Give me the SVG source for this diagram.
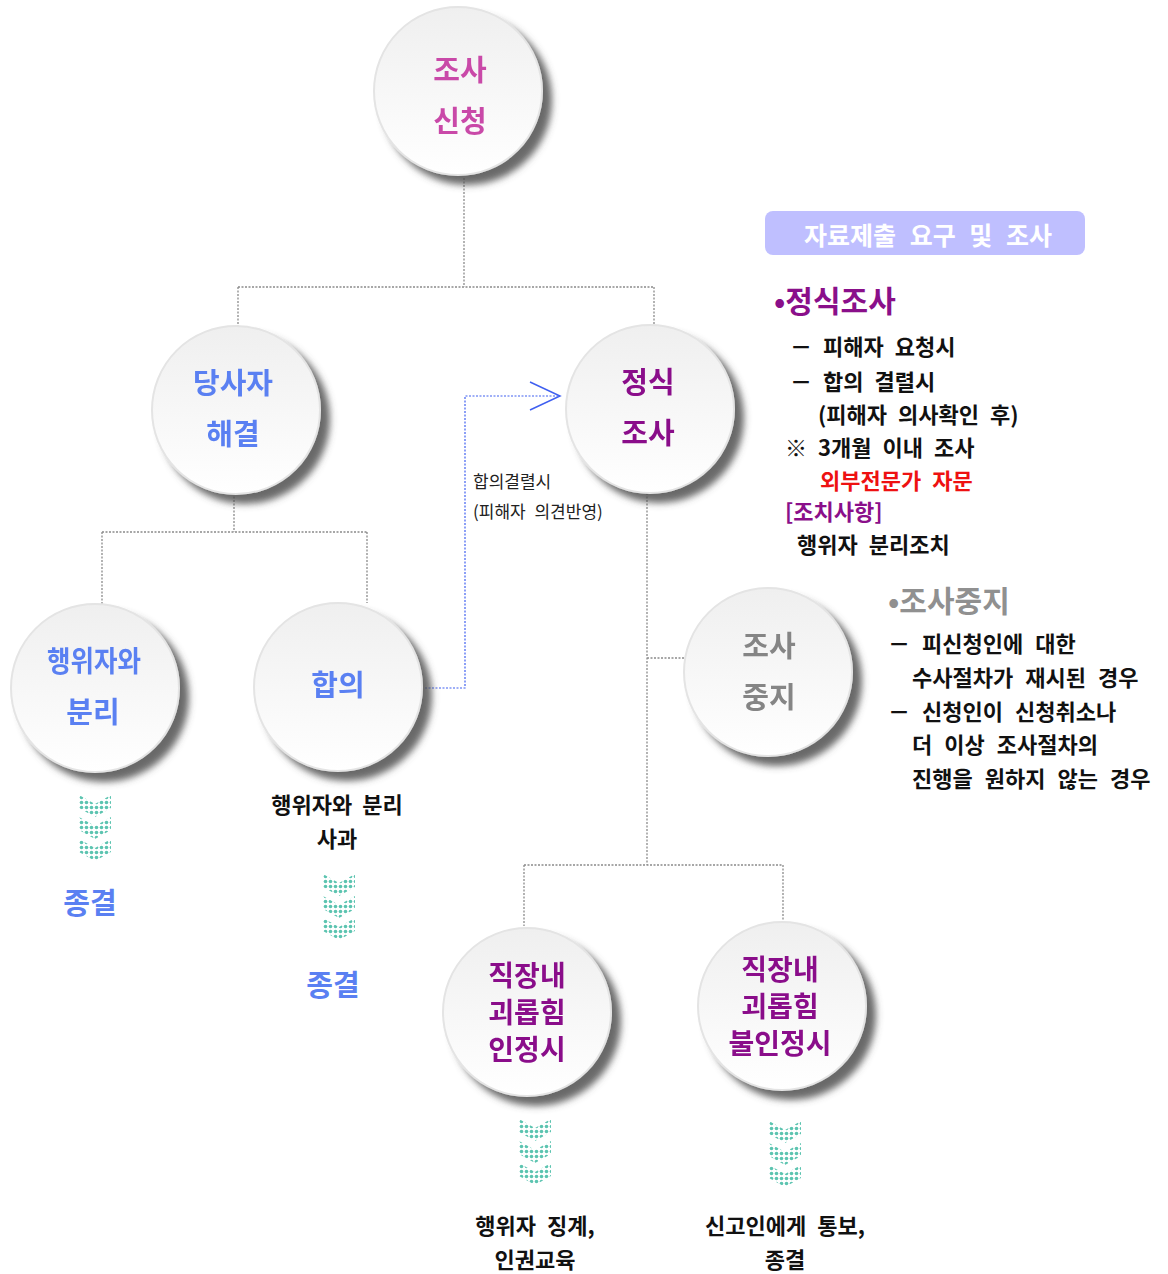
<svg xmlns="http://www.w3.org/2000/svg" width="1168" height="1274" viewBox="0 0 1168 1274">
<defs>
<style>
.t{font-family:"Noto Sans CJK KR","Noto Sans",sans-serif;font-weight:bold}
.c{font-size:29px;text-anchor:middle}
.c3{font-size:28px;text-anchor:middle}
.s{font-size:22px;fill:#111}
.lbl{font-family:"Noto Sans CJK KR","Noto Sans",sans-serif;font-size:17px;fill:#222}
.conn{fill:none;stroke:#8a8a8a;stroke-width:1.3;stroke-dasharray:2 1.5}
.bl{fill:none;stroke:#4060f0;stroke-width:1.2;stroke-dasharray:2 1.5}
.pink{fill:#c94aa8}
.blue{fill:#5a80f2}
.purp{fill:#8a0f8a}
.gray{fill:#858585}
</style>
<linearGradient id="cg" x1="0" y1="0" x2="0" y2="1">
<stop offset="0" stop-color="#efefef"/>
<stop offset="1" stop-color="#ffffff"/>
</linearGradient>
<filter id="sh" x="-30%" y="-30%" width="160%" height="160%">
<feGaussianBlur in="SourceAlpha" stdDeviation="3.5" result="b"/>
<feOffset in="b" dx="9" dy="9" result="o"/>
<feFlood flood-color="#505050" flood-opacity="0.85"/>
<feComposite in2="o" operator="in" result="s"/>
<feMerge><feMergeNode in="s"/><feMergeNode in="SourceGraphic"/></feMerge>
</filter>
<pattern id="dots" width="5" height="5" patternUnits="userSpaceOnUse">
<circle cx="2.5" cy="2.5" r="1.8" fill="#5cc4b0"/>
</pattern>
<g id="chev">
<polygon points="0,0 16,9 32,0 32,13 16,22 0,13" fill="url(#dots)"/>
<polygon points="0,22 16,31 32,22 32,35 16,44 0,35" fill="url(#dots)"/>
<polygon points="0,44 16,53 32,44 32,57 16,66 0,57" fill="url(#dots)"/>
</g>
<circle id="node" r="84" fill="url(#cg)" stroke="#e4e4e4" stroke-width="2"/>
</defs>

<g id="connectors">
<path class="conn" d="M464 178 V287 M238 287 H654 M238 287 V327 M654 287 V325"/>
<path class="conn" d="M234 493 V532 M102 532 H367 M102 532 V605 M367 532 V603"/>
<path class="conn" d="M647 493 V865 M647 658 H685 M524 865 H783 M524 865 V926 M783 865 V921"/>
<path class="bl" d="M425 688 H465 V396 H558"/>
<path d="M530 382 L560 396 L530 410" fill="none" stroke="#3f5ff0" stroke-width="1.5"/>
</g>

<g id="n-request" filter="url(#sh)">
<use href="#node" x="458" y="91"/>
<text class="t c pink" x="460" y="81">조사</text>
<text class="t c pink" x="460" y="132">신청</text>
</g>
<g id="n-party" filter="url(#sh)">
<use href="#node" x="236" y="410"/>
<text class="t c blue" x="233" y="394">당사자</text>
<text class="t c blue" x="233" y="445">해결</text>
</g>
<g id="n-formal" filter="url(#sh)">
<use href="#node" x="650" y="409"/>
<text class="t c purp" x="648" y="393">정식</text>
<text class="t c purp" x="648" y="444">조사</text>
</g>
<g id="n-separate" filter="url(#sh)">
<use href="#node" x="95" y="688"/>
<text class="t c blue" x="94" y="672" textLength="94" lengthAdjust="spacingAndGlyphs">행위자와</text>
<text class="t c blue" x="93" y="723">분리</text>
</g>
<g id="n-agree" filter="url(#sh)">
<use href="#node" x="338" y="687"/>
<text class="t c blue" x="338" y="696">합의</text>
</g>
<g id="n-stop" filter="url(#sh)">
<use href="#node" x="768" y="672"/>
<text class="t c gray" x="769" y="657">조사</text>
<text class="t c gray" x="769" y="708">중지</text>
</g>
<g id="n-confirm" filter="url(#sh)">
<use href="#node" x="527" y="1012"/>
<text class="t c3 purp" x="527" y="986">직장내</text>
<text class="t c3 purp" x="527" y="1023">괴롭힘</text>
<text class="t c3 purp" x="527" y="1060">인정시</text>
</g>
<g id="n-deny" filter="url(#sh)">
<use href="#node" x="782" y="1006"/>
<text class="t c3 purp" x="780" y="980">직장내</text>
<text class="t c3 purp" x="780" y="1017">괴롭힘</text>
<text class="t c3 purp" x="780" y="1054">불인정시</text>
</g>

<g id="results">
<use href="#chev" x="79" y="795"/>
<text class="t c blue" x="90" y="914">종결</text>
<text class="t s" x="337" y="813" text-anchor="middle" word-spacing="5">행위자와 분리</text>
<text class="t s" x="337" y="847" text-anchor="middle">사과</text>
<use href="#chev" x="323" y="874"/>
<text class="t c blue" x="333" y="996">종결</text>
<use href="#chev" x="519" y="1119"/>
<text class="t s" x="535" y="1234" text-anchor="middle" word-spacing="6">행위자 징계,</text>
<text class="t s" x="535" y="1268" text-anchor="middle">인권교육</text>
<use href="#chev" x="769" y="1121"/>
<text class="t s" x="785" y="1234" text-anchor="middle" word-spacing="6">신고인에게 통보,</text>
<text class="t s" x="785" y="1268" text-anchor="middle">종결</text>
</g>

<g id="edge-label">
<text class="lbl" x="473" y="488">합의결렬시</text>
<text class="lbl" x="473" y="518" word-spacing="5">(피해자 의견반영)</text>
</g>

<g id="info-formal">
<rect x="765" y="211" width="320" height="44" rx="8" fill="#bfbfff"/>
<text class="t" x="928" y="245" font-size="25" fill="#ffffff" text-anchor="middle" word-spacing="8">자료제출 요구 및 조사</text>
<text class="t purp" x="774" y="312" font-size="30">•정식조사</text>
<text class="t s" x="790" y="355" word-spacing="6">－ 피해자 요청시</text>
<text class="t s" x="790" y="390" word-spacing="6">－ 합의 결렬시</text>
<text class="t s" x="818" y="423" word-spacing="6">(피해자 의사확인 후)</text>
<text class="t s" x="785" y="456" word-spacing="6">※ 3개월 이내 조사</text>
<text class="t s" x="820" y="489" style="fill:#ee1111" word-spacing="6">외부전문가 자문</text>
<text class="t s" x="785" y="520" style="fill:#8a0f8a">[조치사항]</text>
<text class="t s" x="797" y="553" word-spacing="6">행위자 분리조치</text>
</g>

<g id="info-stop">
<text class="t" x="888" y="612" font-size="30" style="fill:#909090">•조사중지</text>
<text class="t s" x="888" y="652" word-spacing="7">－ 피신청인에 대한</text>
<text class="t s" x="912" y="686" word-spacing="7">수사절차가 재시된 경우</text>
<text class="t s" x="888" y="720" word-spacing="7">－ 신청인이 신청취소나</text>
<text class="t s" x="912" y="753" word-spacing="7">더 이상 조사절차의</text>
<text class="t s" x="912" y="787" word-spacing="7">진행을 원하지 않는 경우</text>
</g>
</svg>
